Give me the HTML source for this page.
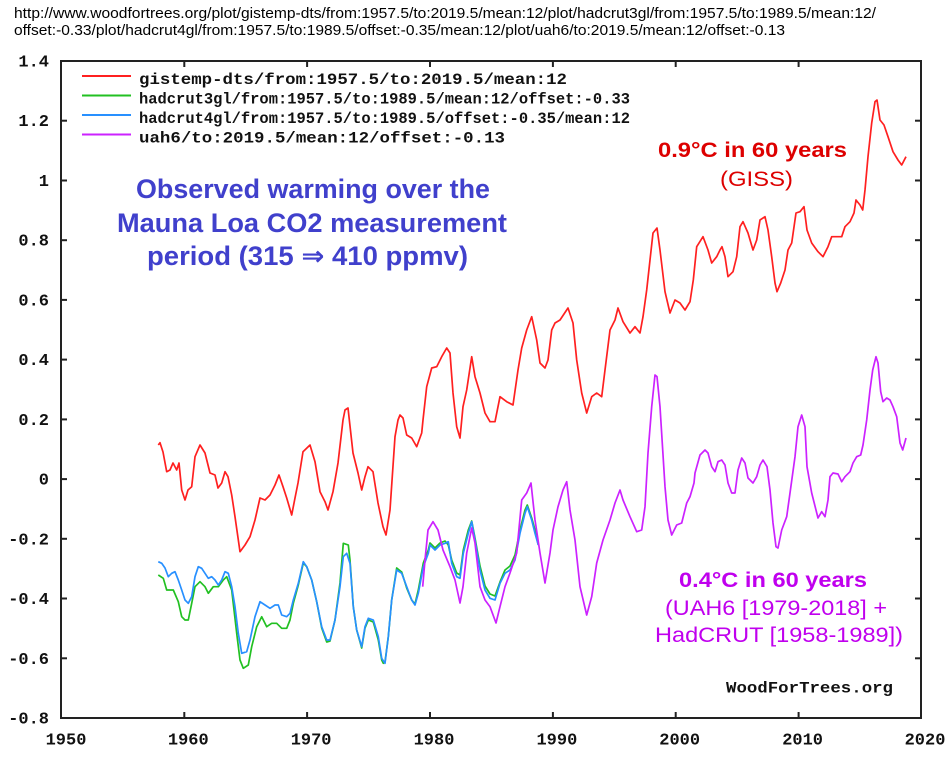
<!DOCTYPE html>
<html><head><meta charset="utf-8"><style>
html,body{margin:0;padding:0;background:#fff;}
svg{display:block;}
.url{font-family:"Liberation Sans",Arial,sans-serif;font-size:14.5px;fill:#000;}
.mono{font-family:"Liberation Mono","DejaVu Sans Mono",monospace;font-weight:bold;font-size:17px;fill:#111;}
.leg{font-family:"Liberation Mono","DejaVu Sans Mono",monospace;font-weight:bold;font-size:16px;fill:#111;}
.t{font-family:"Liberation Sans",Arial,"DejaVu Sans",sans-serif;}
</style></head><body>
<svg width="951" height="758" viewBox="0 0 951 758" xmlns="http://www.w3.org/2000/svg">
<rect width="951" height="758" fill="#fff"/>
<text class="url" x="14" y="18" textLength="862" lengthAdjust="spacingAndGlyphs">http://www.woodfortrees.org/plot/gistemp-dts/from:1957.5/to:2019.5/mean:12/plot/hadcrut3gl/from:1957.5/to:1989.5/mean:12/</text>
<text class="url" x="14" y="35" textLength="771" lengthAdjust="spacingAndGlyphs">offset:-0.33/plot/hadcrut4gl/from:1957.5/to:1989.5/offset:-0.35/mean:12/plot/uah6/to:2019.5/mean:12/offset:-0.13</text>

<!-- frame -->
<rect x="61" y="61" width="860" height="657" fill="none" stroke="#222" stroke-width="2"/>
<g stroke="#222" stroke-width="2">
<line x1="61" y1="120.7" x2="67" y2="120.7"/><line x1="61" y1="180.5" x2="67" y2="180.5"/><line x1="61" y1="240.2" x2="67" y2="240.2"/><line x1="61" y1="299.9" x2="67" y2="299.9"/><line x1="61" y1="359.6" x2="67" y2="359.6"/><line x1="61" y1="419.4" x2="67" y2="419.4"/><line x1="61" y1="479.1" x2="67" y2="479.1"/><line x1="61" y1="538.8" x2="67" y2="538.8"/><line x1="61" y1="598.5" x2="67" y2="598.5"/><line x1="61" y1="658.3" x2="67" y2="658.3"/>
<line x1="915" y1="120.7" x2="921" y2="120.7"/><line x1="915" y1="180.5" x2="921" y2="180.5"/><line x1="915" y1="240.2" x2="921" y2="240.2"/><line x1="915" y1="299.9" x2="921" y2="299.9"/><line x1="915" y1="359.6" x2="921" y2="359.6"/><line x1="915" y1="419.4" x2="921" y2="419.4"/><line x1="915" y1="479.1" x2="921" y2="479.1"/><line x1="915" y1="538.8" x2="921" y2="538.8"/><line x1="915" y1="598.5" x2="921" y2="598.5"/><line x1="915" y1="658.3" x2="921" y2="658.3"/>
<line x1="184.3" y1="61" x2="184.3" y2="67"/><line x1="307.1" y1="61" x2="307.1" y2="67"/><line x1="430" y1="61" x2="430" y2="67"/><line x1="552.9" y1="61" x2="552.9" y2="67"/><line x1="675.7" y1="61" x2="675.7" y2="67"/><line x1="798.6" y1="61" x2="798.6" y2="67"/>
<line x1="184.3" y1="712" x2="184.3" y2="718"/><line x1="307.1" y1="712" x2="307.1" y2="718"/><line x1="430" y1="712" x2="430" y2="718"/><line x1="552.9" y1="712" x2="552.9" y2="718"/><line x1="675.7" y1="712" x2="675.7" y2="718"/><line x1="798.6" y1="712" x2="798.6" y2="718"/>
</g>

<!-- y labels -->
<g class="mono" text-anchor="end">
<text x="49" y="66.5">1.4</text>
<text x="49" y="126.2">1.2</text>
<text x="49" y="186">1</text>
<text x="49" y="245.7">0.8</text>
<text x="49" y="305.4">0.6</text>
<text x="49" y="365.1">0.4</text>
<text x="49" y="424.9">0.2</text>
<text x="49" y="484.6">0</text>
<text x="49" y="544.3">-0.2</text>
<text x="49" y="604">-0.4</text>
<text x="49" y="663.8">-0.6</text>
<text x="49" y="723.5">-0.8</text>
</g>
<!-- x labels -->
<g class="mono" text-anchor="middle">
<text x="66" y="744.5">1950</text>
<text x="188.3" y="744.5">1960</text>
<text x="311.1" y="744.5">1970</text>
<text x="434" y="744.5">1980</text>
<text x="556.9" y="744.5">1990</text>
<text x="679.7" y="744.5">2000</text>
<text x="802.6" y="744.5">2010</text>
<text x="925" y="744.5">2020</text>
</g>

<!-- legend -->
<g stroke-width="2">
<line x1="82" y1="76" x2="131" y2="76" stroke="#ff2020"/>
<line x1="82" y1="95.5" x2="131" y2="95.5" stroke="#22c022"/>
<line x1="82" y1="115" x2="131" y2="115" stroke="#2890ff"/>
<line x1="82" y1="134.5" x2="131" y2="134.5" stroke="#cc22ff"/>
</g>
<g class="leg">
<text x="139" y="84" textLength="428" lengthAdjust="spacingAndGlyphs">gistemp-dts/from:1957.5/to:2019.5/mean:12</text>
<text x="139" y="103.5" textLength="491" lengthAdjust="spacingAndGlyphs">hadcrut3gl/from:1957.5/to:1989.5/mean:12/offset:-0.33</text>
<text x="139" y="123" textLength="491" lengthAdjust="spacingAndGlyphs">hadcrut4gl/from:1957.5/to:1989.5/offset:-0.35/mean:12</text>
<text x="139" y="142.5" textLength="366" lengthAdjust="spacingAndGlyphs">uah6/to:2019.5/mean:12/offset:-0.13</text>
<text x="726" y="692.5" textLength="167" lengthAdjust="spacingAndGlyphs">WoodForTrees.org</text>
</g>

<!-- annotations -->
<g class="t" font-weight="bold" font-size="26.5" fill="#4040cc">
<text x="136" y="198" textLength="354" lengthAdjust="spacingAndGlyphs">Observed warming over the</text>
<text x="117" y="232" textLength="390" lengthAdjust="spacingAndGlyphs">Mauna Loa CO2 measurement</text>
<text x="147" y="265" textLength="321" lengthAdjust="spacingAndGlyphs">period (315 ⇒ 410 ppmv)</text>
</g>
<text class="t" x="658" y="157" font-weight="bold" font-size="21" fill="#dd0000" textLength="189" lengthAdjust="spacingAndGlyphs">0.9°C in 60 years</text>
<text class="t" x="720" y="186" font-size="21" fill="#dd0000" textLength="73" lengthAdjust="spacingAndGlyphs">(GISS)</text>
<text class="t" x="679" y="587" font-weight="bold" font-size="21" fill="#c000ee" textLength="188" lengthAdjust="spacingAndGlyphs">0.4°C in 60 years</text>
<text class="t" x="665" y="615" font-size="21" fill="#c000ee" textLength="222" lengthAdjust="spacingAndGlyphs">(UAH6 [1979-2018] +</text>
<text class="t" x="655" y="642" font-size="21" fill="#c000ee" textLength="248" lengthAdjust="spacingAndGlyphs">HadCRUT [1958-1989])</text>

<!-- series -->
<g fill="none" stroke-width="1.7" stroke-linejoin="round">
<polyline stroke="#ff2020" points="158.3,445 160,442.7 163,452 166.7,471.7 170,470 173,463 176.7,470 179,463 181.7,490 185,500 188,490 191.7,486.7 195,456.7 200,445 205,453 210,473 215,475 218,488 221.7,483 225,471.7 228,476.7 231.7,495 235,516.7 240,551.7 245,545 250,536.7 255,520 260,498 265,500 270,495 275,485 279,475 283,486.7 286.7,498 291.7,515 295,498 298,483 303,451.7 310,445 315,461.7 320,491.7 325,501.7 328,510 333,491.7 338,463 343,420 345,410 348,408 353,453 358,473 361.7,490 365,476.7 368,466.7 373,471.7 378,503 383,526.7 386,535 390,510 395,436.7 398,420 400,415 403,418 406.7,435 411.7,438 416.7,446.7 421.7,433 423,420 426.7,386.7 431.7,368 436.7,366.7 441.7,356.7 446.7,348 450,353 453,393 456.7,426.7 460,438 463,406.7 466.7,390 471.7,356.7 475,376.7 480,393 485,413 490,421.7 495,421.7 500,396.7 506.7,401.7 513,405 518,370 521.7,348 526.7,330 531.7,316.7 536.7,340 540,363 545,368 548,360 551.7,330 555,323 560,320 568,308 573,323 576.7,360 581.7,393 586.7,413 591.7,396.7 596.7,393 601.7,396.7 605,370 610,330 615,320 618,308 623,321.7 630,333 635,326.7 640,333 643,316.7 646.7,290 650,260 653,233 657,228 660,250 665,291.7 670,313 675,300 680,303 685,310 690,301.7 693.3,280 696.7,246.7 703,236.7 708,250 711.7,263 716.7,256.7 720,250 722,246.7 725,256.7 728,276.7 733,271.7 736.7,256.7 740,226.7 743,221.7 748,233 753,250 756.7,240 760,220 765,216.7 768,230 771.7,256.7 775,283 777,291.7 780.7,283 785,270 788,250 791.7,243 796,213 800,211.7 804,206.7 807,230 811.7,243 818,251.7 823,256.7 828,246.7 831.7,236.7 836.7,236.7 841.7,236.7 845,226.7 850,221.7 854,213 856,200 860,205 862.7,210 865,190 868,156.7 871.7,123 875,101.7 877,100 880,120 884,125 888,136.7 893,151.7 898,160 901.7,165 906,156.7"/>
<polyline stroke="#22c022" points="158.3,575 163.3,578.3 166.7,590 173.3,590 178.3,601.7 181.7,616.7 185,620 188.3,620 191.7,603.3 195,586.7 200,581.7 205,586.7 208.3,593.3 213.3,586.7 218.3,586.7 223.3,580 226.7,576.7 231.7,590 236.7,633.3 240,660 243.3,668.3 248.3,665 251.7,646.7 256.7,626.7 261.7,616.7 266.7,626.7 271.7,623.3 276.7,623.3 281.7,628.3 286.7,628.3 290,620 293.3,603.3 298.3,585 303.3,563 306.7,566.7 311.7,580 316.7,601.7 321.7,628 326.7,642 330,641 335,620 340,583 343.3,543.3 348.3,545 350,560 353.3,606.7 356.7,630 361.7,648 365,628 368.3,620 373.3,622 378.3,640 381.7,660 383.3,663.3 385,662 388.3,636.7 391.7,600 396.7,568 401.7,572 406.7,588 411.7,600 415,604 418.3,590 423.3,563 428.3,550 430,543 435,548 440,543 445,541 448.3,545 451.7,560 456.7,573 460,575 463.3,550 468.3,530 471.7,521 475,538 480,566 485,586 490,594 495,596 500,582 505,570 510,566 515,555 520,530 525,510 527.3,505 531.7,518 535,530 538.3,545"/>
<polyline stroke="#2890ff" points="158.3,561.7 161.7,563.3 165,568 168.3,576.7 171.7,573.3 175,571.7 178.3,580 181.7,590 185,600 188.3,603.3 191.7,596.7 195,576.7 198.3,566.7 201.7,568.3 205,573.3 208.3,578.3 211.7,576.7 215,580 218.3,585 221.7,580 225,571.7 228.3,573.3 231.7,586.7 235,606.7 238.3,633.3 241.7,653.3 246.7,651.7 250,640 255,616.7 260,601.7 265,605 270,608.3 275,605 278.3,605 281.7,615 286.7,616.7 290,613.3 293.3,600 298.3,583.3 303.3,561.7 306.7,566.7 311.7,580 316.7,601.7 321.7,626.7 326.7,640 330,640 335,620 340,586.7 343.3,556.7 346.7,553.3 350,563.3 353.3,606.7 356.7,630 361.7,646.7 365,626.7 368.3,618.3 373.3,620 378.3,636.7 381.7,658.3 385,663.3 388.3,636.7 391.7,600 396.7,570 401.7,573.3 406.7,586.7 411.7,600 415,605 418.3,593.3 423.3,566.7 428.3,553.3 430,545 435,550 440,545 445,543.3 448.3,541.7 451.7,563.3 456.7,576.7 460,578.3 463.3,553.3 468.3,533.3 471.7,521.7 475,540 480,570 485,590 490,598.3 495,600 500,583.3 505,573.3 510,570 515,560 520,533.3 525,513.3 527.3,506.7 531.7,520 535,533.3 538.3,545"/>
<polyline stroke="#cc22ff" points="422.7,586.7 425,560 428,530 433,521.7 438,530 443,550 450,566.7 455,580 460,603 463,586.7 466.7,553 471.7,528 475,543 480,586.7 485,600 490,606.7 496,623 500,606.7 505,586.7 510,573 516.7,553 521.7,500 526.7,493 531,483 535,520 540,553 545,583 550,553 553,530 558,506.7 563,490 566.7,481.7 570,510 575,540 580,586.7 586.7,615 591.7,596.7 596.7,563 603,540 610,520 615,503 620,490 623,500 630,516.7 636.7,531.7 641.7,530 645,506.7 648,453 651.7,406.7 655,375 657,376.7 660,406.7 665,486.7 668,520 671.7,535 676.7,525 681.7,523 686.7,503 690,496.7 694,483 695,473 700,455 705,450 708,453 711.7,466.7 715,471.7 718,461.7 721.7,460 725,465 728,483 731.7,493 735,493 738,470 741.7,458 745,463 748,478 753,483 756.7,476.7 760,465 763,460 767,466.7 770,490 773,523 776,546.7 778,548 781.7,530 786.7,516.7 790,493 795,456.7 798,426.7 801.7,415 805,426.7 807,466.7 811.7,493 818,518 821.7,511.7 825,516.7 828,500 830,476.7 833,473 838,474 841.7,481.7 845,476.7 850,471.7 853,463 856.7,456.7 860.7,455 863,445 866.7,420 870,390 872.7,370 876,356.7 878,363 880.7,391.7 883,401.7 886.7,398 890,400 893,406.7 896.7,416.7 900,443 902.7,450 906,438"/>
</g>
</svg>
</body></html>
